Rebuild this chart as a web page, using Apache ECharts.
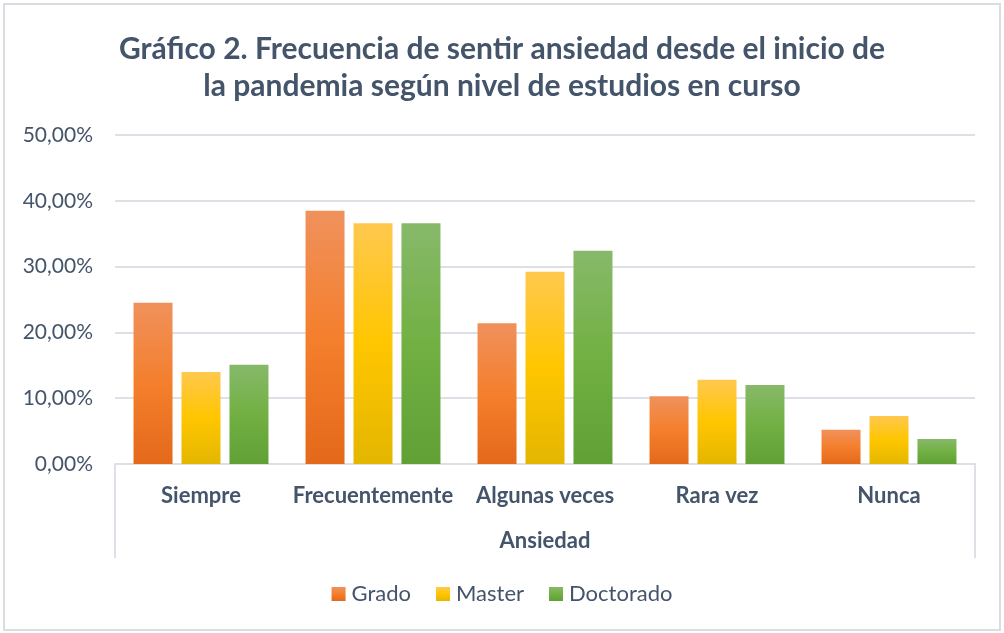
<!DOCTYPE html>
<html>
<head>
<meta charset="utf-8">
<script src="https://cdn.jsdelivr.net/npm/echarts@6/dist/echarts.min.js"></script>
<style>
  html, body { margin: 0; padding: 0; background: #fff; }
  #chart { width: 1004px; height: 633px; }
</style>
</head>
<body>
<div id="chart"></div>
<script>
// datos (porcentaje)
const categories = ["Siempre", "Frecuentemente", "Algunas veces", "Rara vez", "Nunca"];
const grado = [24.5, 38.5, 21.4, 10.3, 5.2];
const master = [14.0, 36.6, 29.2, 12.8, 7.3];
const doctorado = [15.1, 36.6, 32.4, 12.0, 3.8];
const yTicks = { min: 0, max: 50, interval: 10 };

const textColor = "#44546A";
const lineColor = "#DDE1E7";
const font = "Lato";

// zona de trazado
const gridLeft = 115, gridRight = 29, gridTop = 135, gridBottom = 169;

function grad(top, mid, bottom) {
  return new echarts.graphic.LinearGradient(0, 0, 0, 1, [
    { offset: 0, color: top },
    { offset: 0.5, color: mid },
    { offset: 1, color: bottom }
  ]);
}

function serie(name, data, color) {
  return {
    name: name,
    type: "bar",
    data: data,
    barWidth: 39,
    barGap: "23%",
    itemStyle: { color: color }
  };
}

const chart = echarts.init(document.getElementById("chart"));
const W = 1004, H = 633;
const axisBottom = H - gridBottom;

const option = {
  animation: false,
  backgroundColor: "#fff",
  title: {
    text: "Gráfico 2. Frecuencia de sentir ansiedad desde el inicio de\nla pandemia según nivel de estudios en curso",
    left: "center",
    top: 26,
    textStyle: {
      fontFamily: font,
      fontSize: 30,
      fontWeight: "bold",
      color: textColor,
      lineHeight: 37
    }
  },
  legend: {
    top: 578,
    left: "center",
    icon: "rect",
    itemWidth: 14,
    itemHeight: 14,
    itemGap: 25,
    textStyle: { fontFamily: font, fontSize: 22, color: textColor, padding: [0, 0, 0, 1] },
    data: ["Grado", "Master", "Doctorado"]
  },
  grid: { left: gridLeft, right: gridRight, top: gridTop, bottom: gridBottom, containLabel: false },
  xAxis: {
    type: "category",
    data: categories,
    name: "Ansiedad",
    nameLocation: "middle",
    nameGap: 66,
    nameTextStyle: { fontFamily: font, fontSize: 22, fontWeight: "bold", color: textColor },
    axisLine: { show: true, lineStyle: { color: lineColor, width: 2 } },
    axisTick: { show: false },
    axisLabel: { margin: 21, fontFamily: font, fontSize: 22, fontWeight: "bold", color: textColor, interval: 0 }
  },
  yAxis: {
    type: "value",
    min: yTicks.min,
    max: yTicks.max,
    interval: yTicks.interval,
    axisLine: { show: false },
    axisTick: { show: false },
    splitLine: { lineStyle: { color: lineColor, width: 2 } },
    axisLabel: {
      margin: 22,
      fontFamily: font,
      fontSize: 21,
      color: textColor,
      formatter: v => v.toFixed(2).replace(".", ",") + "%"
    }
  },
  graphic: [
    {
      type: "rect",
      shape: { x: 4, y: 4, width: 996, height: 626 },
      style: { fill: null, stroke: "#D9DCE1", lineWidth: 2 },
      silent: true
    },
    {
      type: "line",
      shape: { x1: gridLeft, y1: axisBottom, x2: gridLeft, y2: axisBottom + 94 },
      style: { stroke: lineColor, lineWidth: 2 },
      silent: true
    },
    {
      type: "line",
      shape: { x1: W - gridRight, y1: axisBottom, x2: W - gridRight, y2: axisBottom + 94 },
      style: { stroke: lineColor, lineWidth: 2 },
      silent: true
    }
  ],
  series: [
    serie("Grado", grado, grad("#F0915C", "#F47F2D", "#E4691A")),
    serie("Master", master, grad("#FFC84E", "#FFC600", "#E4B600")),
    serie("Doctorado", doctorado, grad("#87B96A", "#72B043", "#60A035"))
  ]
};
chart.setOption(option);
</script>
</body>
</html>
